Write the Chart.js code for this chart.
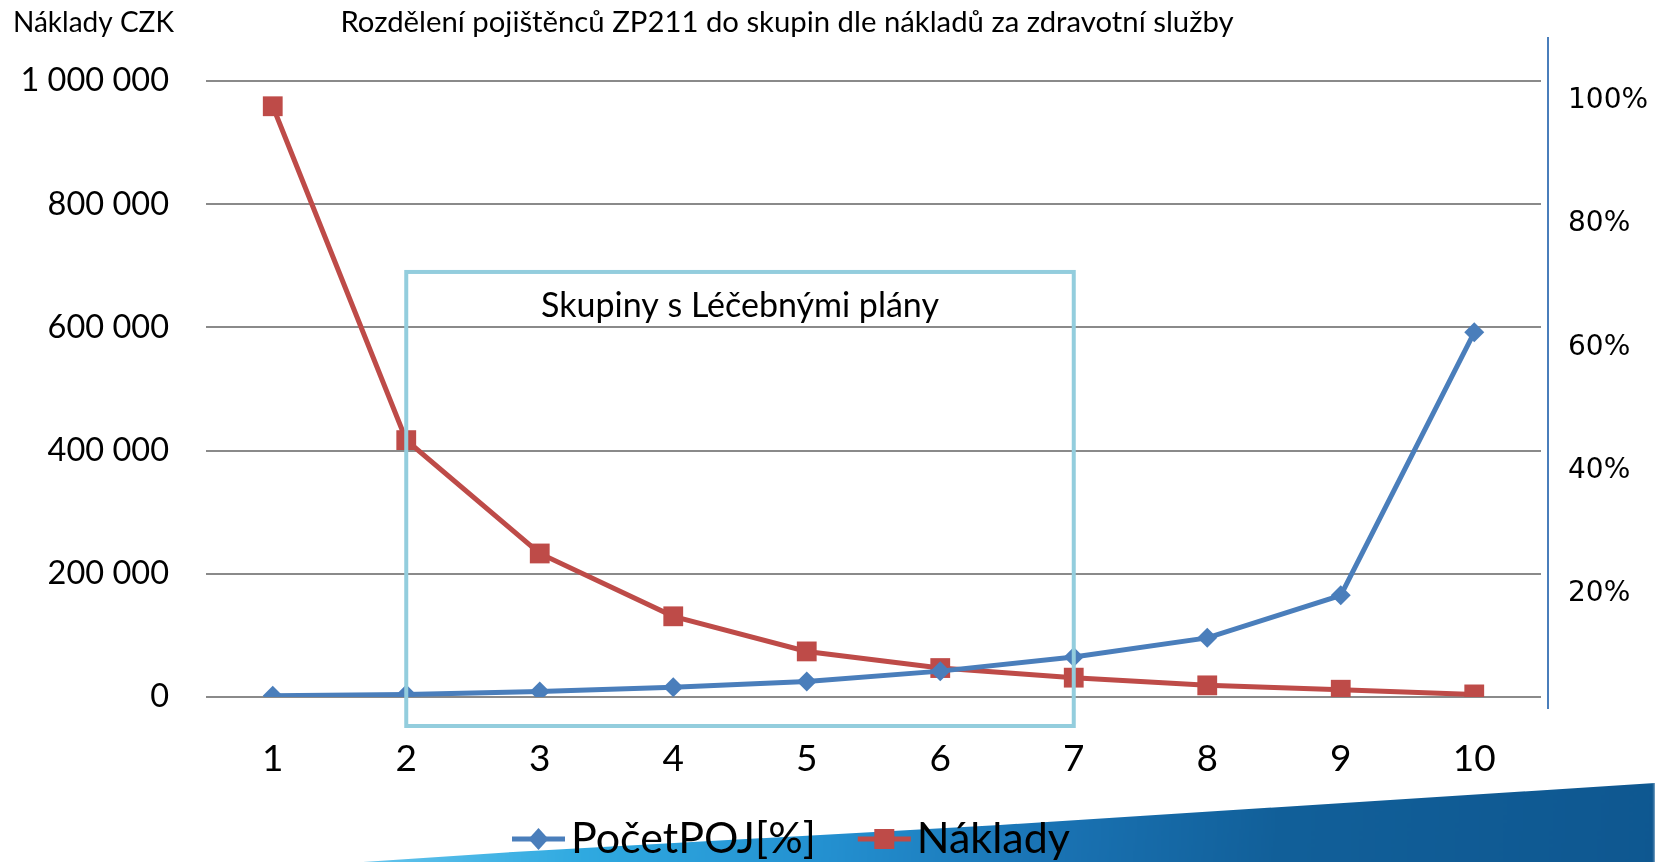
<!DOCTYPE html>
<html>
<head>
<meta charset="utf-8">
<script src="https://cdn.jsdelivr.net/npm/chart.js@4.4.1/dist/chart.umd.min.js"></script>
<style>
  html, body { margin: 0; padding: 0; background: #fff; }
  #wrap { position: relative; width: 1655px; height: 862px; overflow: hidden; }
  #swoosh {
    position: absolute; left: 0; top: 0; width: 1655px; height: 870px;
    clip-path: polygon(243px 870px, 513px 852px, 1000px 825px, 1655px 783px, 1655px 870px);
    background: linear-gradient(95deg, #d4eef9 14%, #5cc0ea 27%, #2fa9e0 38%, #2390d0 52%, #1a74b5 64%, #115f99 78%, #0e5790 100%);
    filter: blur(1.5px);
  }
  canvas { position: absolute; left: 0; top: 0; }
</style>
</head>
<body>
<div id="wrap">
  <div id="swoosh"></div>
  <canvas id="chart" width="1655" height="862"></canvas>
</div>
<script>
// data
const groups = ['1', '2', '3', '4', '5', '6', '7', '8', '9', '10'];
const pocetPoj = [0.2, 0.4, 0.9, 1.6, 2.5, 4.2, 6.5, 9.6, 16.5, 59.2];
const naklady = [959000, 417000, 233000, 131000, 74000, 47000, 31400, 18900, 11800, 4200];
const leftMax = 1000000;
const rightMax = 100;

const titleText = 'Rozdělení pojištěnců ZP211 do skupin dle nákladů za zdravotní služby';
const leftAxisTitle = 'Náklady CZK';
const boxLabel = 'Skupiny s Léčebnými plány';
const boxFrom = '2', boxTo = '7';

const BLUE = '#4a7ebb';
const RED = '#be4b48';
const FONT = 'Lato, "Open Sans", sans-serif';

const fmtSpace = v => String(v).replace(/\B(?=(\d{3})+(?!\d))/g, ' ');

// title, box, right axis line, legend
const overlay = {
    id: 'overlay',
    afterDatasetsDraw(chart) {
        const { ctx, chartArea, scales } = chart;
        const x = scales.x, y = scales.y;
        const left = x.getPixelForValue(groups.indexOf(boxFrom));
        const right = x.getPixelForValue(groups.indexOf(boxTo));
        const top = y.getPixelForValue(690000);
        const bottom = chartArea.bottom + 29;
        ctx.save();
        ctx.strokeStyle = '#93cddd';
        ctx.lineWidth = 4;
        ctx.strokeRect(left, top, right - left, bottom - top);
        ctx.fillStyle = '#000';
        ctx.font = '34px ' + FONT;
        ctx.textAlign = 'center';
        ctx.textBaseline = 'middle';
        ctx.fillText(boxLabel, (left + right) / 2, top + 34);
        ctx.restore();
    },
    afterDraw(chart) {
        const { ctx, chartArea } = chart;
        ctx.save();
        // right axis line
        ctx.strokeStyle = BLUE;
        ctx.lineWidth = 2;
        ctx.beginPath();
        ctx.moveTo(chartArea.right + 7, 37);
        ctx.lineTo(chartArea.right + 7, chartArea.bottom + 12);
        ctx.stroke();

        ctx.fillStyle = '#000';
        ctx.textBaseline = 'middle';
        ctx.font = '28px ' + FONT;
        ctx.textAlign = 'left';
        ctx.fillText(leftAxisTitle, 13, 23);
        ctx.font = '29.3px ' + FONT;
        ctx.textAlign = 'center';
        ctx.fillText(titleText, 787, 23);

        // legend
        ctx.font = '43px ' + FONT;
        let lx = 512;
        const ly = 839;
        chart.data.datasets.forEach(ds => {
            ctx.strokeStyle = ds.borderColor;
            ctx.lineWidth = 5;
            ctx.beginPath();
            ctx.moveTo(lx, ly);
            ctx.lineTo(lx + 53, ly);
            ctx.stroke();
            ctx.fillStyle = ds.borderColor;
            const cx = lx + 26.5;
            if (ds.pointStyle === 'rect') {
                ctx.fillRect(cx - 10, ly - 10, 20, 20);
            } else {
                ctx.beginPath();
                ctx.moveTo(cx, ly - 11);
                ctx.lineTo(cx + 10, ly);
                ctx.lineTo(cx, ly + 11);
                ctx.lineTo(cx - 10, ly);
                ctx.closePath();
                ctx.fill();
            }
            ctx.fillStyle = '#000';
            ctx.textAlign = 'left';
            ctx.fillText(ds.label, lx + 59, ly);
            lx += 59 + ctx.measureText(ds.label).width + 42;
        });
        ctx.restore();
    }
};

new Chart(document.getElementById('chart'), {
    type: 'line',
    data: {
        labels: groups,
        datasets: [
            {
                label: 'PočetPOJ[%]',
                data: pocetPoj,
                yAxisID: 'y1',
                borderColor: BLUE,
                backgroundColor: BLUE,
                borderWidth: 5,
                pointStyle: 'rectRot',
                pointRadius: 10,
                pointBorderWidth: 0,
                tension: 0
            },
            {
                label: 'Náklady',
                data: naklady,
                yAxisID: 'y',
                borderColor: RED,
                backgroundColor: RED,
                borderWidth: 5,
                pointStyle: 'rect',
                pointRadius: 14,
                pointBorderWidth: 0,
                tension: 0
            }
        ]
    },
    options: {
        responsive: false,
        animation: false,
        devicePixelRatio: 1,
        layout: { padding: { top: 81, bottom: 0, left: 0, right: 0 } },
        plugins: { legend: { display: false }, tooltip: { enabled: false } },
        scales: {
            x: {
                offset: true,
                grid: { display: false, drawTicks: false },
                border: { display: false },
                ticks: { color: '#000', font: { family: FONT, size: 37 }, padding: 40, maxRotation: 0 },
                afterFit: s => { s.height = 165; }
            },
            y: {
                position: 'left',
                min: 0,
                max: leftMax,
                grid: { color: '#8a8a8a', lineWidth: 2, drawTicks: false },
                border: { display: false },
                ticks: {
                    stepSize: 200000,
                    color: '#000',
                    padding: 37,
                    font: { family: FONT, size: 32.5 },
                    callback: v => fmtSpace(v)
                },
                afterFit: s => { s.width = 206; }
            },
            y1: {
                position: 'right',
                min: 0,
                max: rightMax,
                grid: { drawOnChartArea: false, drawTicks: false },
                border: { display: false },
                ticks: {
                    stepSize: 20,
                    color: '#000',
                    padding: 27,
                    labelOffset: 20,
                    font: { family: '"DejaVu Sans", sans-serif', size: 28 },
                    callback: v => (v === 0 ? '' : v + '%')
                },
                afterFit: s => { s.width = 114; }
            }
        }
    },
    plugins: [overlay]
});
</script>
</body>
</html>
